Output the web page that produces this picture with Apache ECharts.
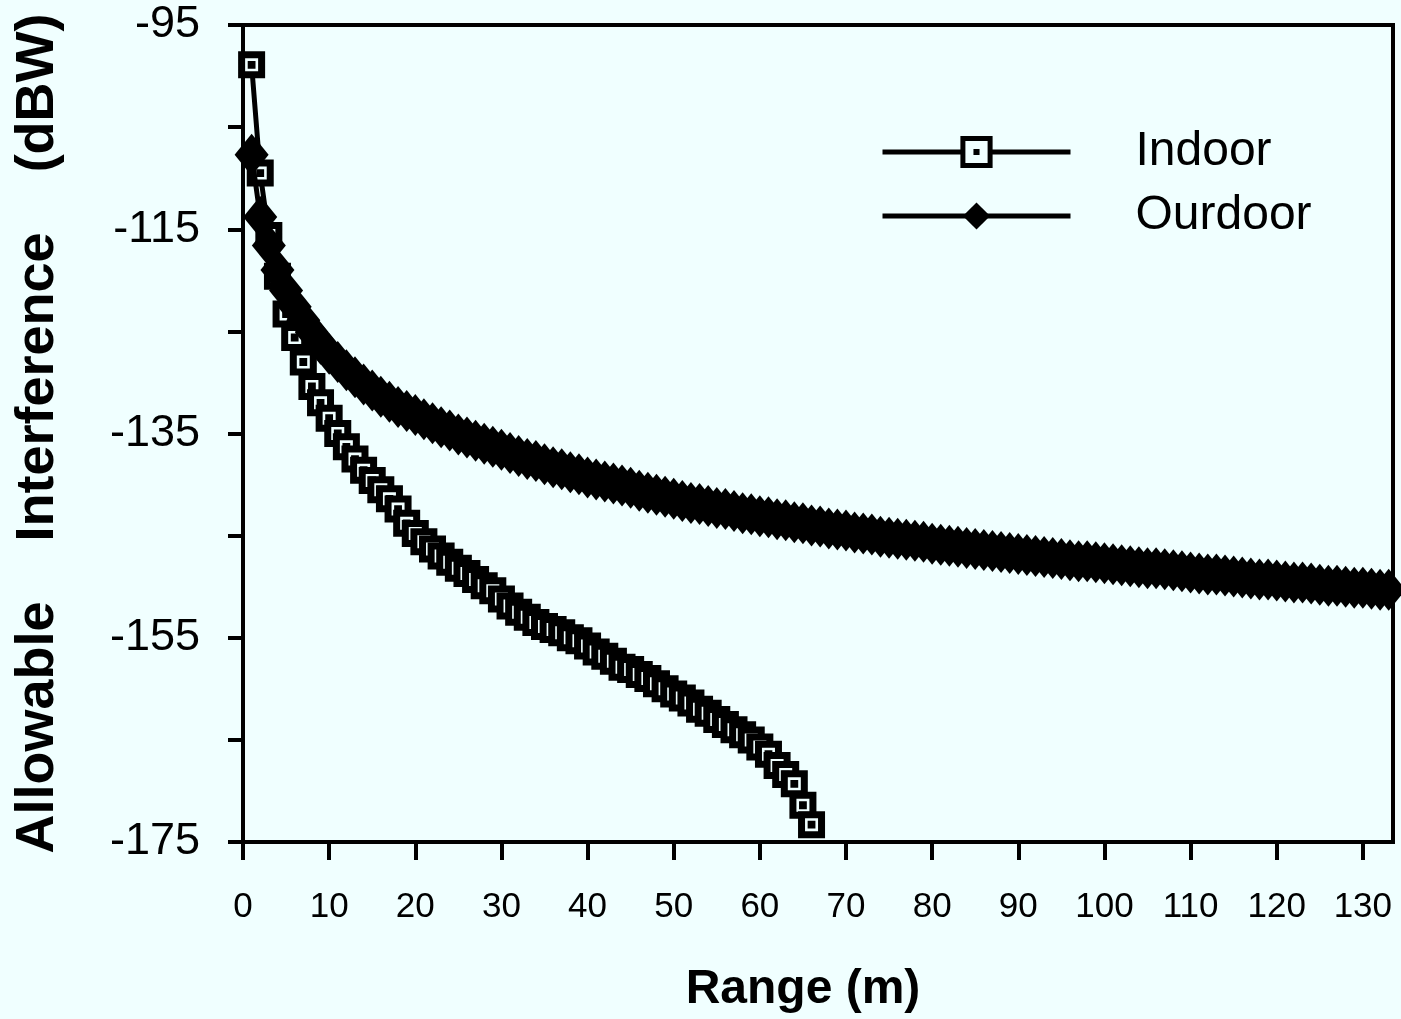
<!DOCTYPE html>
<html>
<head>
<meta charset="utf-8">
<script src="https://cdn.jsdelivr.net/npm/echarts@6/dist/echarts.min.js"></script>
<style>
  html, body { margin: 0; padding: 0; background: #f0ffff; }
  #chart { width: 1401px; height: 1019px; }
</style>
</head>
<body>
<div id="chart"></div>
<script>
// range (m) of each point
var indoorRange = [];
for (var i = 1; i <= 66; i++) indoorRange.push(i);
var outdoorRange = [];
for (var j = 1; j <= 133; j++) outdoorRange.push(j);

// allowable interference (dBW)
var indoorDbw = [
  -98.9, -109.5, -115.6, -119.6, -123.3, -125.6, -128.0, -130.4, -132.0, -133.5,
  -135.0, -136.3, -137.5, -138.6, -139.6, -140.5, -141.4, -142.4, -143.8, -144.8,
  -145.6, -146.3, -147.0, -147.6, -148.2, -148.7, -149.3, -149.9, -150.4, -151.2,
  -151.9, -152.5, -153.0, -153.5, -153.9, -154.2, -154.5, -155.0, -155.3, -155.8,
  -156.4, -156.8, -157.3, -157.9, -158.1, -158.6, -159.0, -159.5, -160.0, -160.5,
  -160.9, -161.4, -162.0, -162.4, -163.0, -163.5, -164.0, -164.5, -165.0, -165.7,
  -166.4, -167.5, -168.4, -169.3, -171.4, -173.3
];
var outdoorDbw = [
  -107.7, -113.8, -116.6, -119.0, -121.0, -122.6, -123.9, -125.1, -126.2, -127.2,
  -128.0, -128.8, -129.5, -130.2, -130.8, -131.4, -131.9, -132.4, -132.8, -133.2,
  -133.6, -134.0, -134.4, -134.7, -135.1, -135.4, -135.7, -136.0, -136.3, -136.6,
  -136.9, -137.2, -137.5, -137.7, -138.0, -138.3, -138.5, -138.8, -139.0, -139.3,
  -139.5, -139.7, -139.9, -140.1, -140.3, -140.6, -140.8, -141.0, -141.2, -141.4,
  -141.6, -141.8, -141.9, -142.1, -142.3, -142.4, -142.6, -142.8, -142.9, -143.1,
  -143.2, -143.4, -143.5, -143.7, -143.8, -144.0, -144.1, -144.3, -144.4, -144.5,
  -144.7, -144.8, -144.9, -145.1, -145.2, -145.3, -145.4, -145.5, -145.6, -145.8,
  -145.9, -146.0, -146.1, -146.2, -146.3, -146.4, -146.5, -146.6, -146.7, -146.8,
  -146.9, -147.0, -147.1, -147.2, -147.3, -147.4, -147.5, -147.5, -147.6, -147.7,
  -147.8, -147.9, -148.0, -148.1, -148.2, -148.2, -148.3, -148.4, -148.5, -148.6,
  -148.7, -148.8, -148.8, -148.9, -149.0, -149.1, -149.2, -149.3, -149.3, -149.4,
  -149.5, -149.6, -149.6, -149.7, -149.8, -149.9, -149.9, -150.0, -150.1, -150.1,
  -150.2, -150.3, -150.3
];
var yLabels = [-175, -155, -135, -115, -95];

function pairs(xs, ys) {
  return xs.map(function (x, k) { return [x, ys[k]]; });
}

var bg = '#f0ffff';
var chart = echarts.init(document.getElementById('chart'));
var option = {
  backgroundColor: bg,
  animation: false,
  textStyle: { fontFamily: 'Liberation Sans, Arial, sans-serif', color: '#000' },
  grid: {
    left: 243, top: 25, right: 8, bottom: 174,
    show: true, borderColor: '#000', borderWidth: 4, backgroundColor: 'transparent'
  },
  legend: {
    orient: 'vertical',
    left: 880, top: 128, padding: 0,
    itemWidth: 188, itemHeight: 34, itemGap: 16,
    lineStyle: { width: 5 },
    itemStyle: { borderWidth: 5 },
    textStyle: { fontSize: 48, color: '#000', padding: [0, 0, 0, 60] },
    data: ['Indoor', 'Ourdoor']
  },
  xAxis: {
    type: 'value', min: 0, max: 133.5, interval: 10,
    name: 'Range (m)', nameLocation: 'middle', nameGap: 124,
    nameTextStyle: { fontSize: 48, fontWeight: 'bold', color: '#000', padding: [0, 30, 0, 0] },
    axisLine: { lineStyle: { color: '#000', width: 4 } },
    axisTick: { inside: false, length: 18, lineStyle: { color: '#000', width: 4 } },
    axisLabel: { fontSize: 35, color: '#000', margin: 48, showMaxLabel: false },
    splitLine: { show: false }
  },
  yAxis: {
    type: 'value', min: -175, max: -95, interval: 10,
    name: 'Allowable    Interference    (dBW)', nameLocation: 'middle', nameGap: 178, nameRotate: 90,
    nameTextStyle: { fontSize: 54, fontWeight: 'bold', color: '#000' },
    axisLine: { lineStyle: { color: '#000', width: 4 } },
    axisTick: { inside: false, length: 15, lineStyle: { color: '#000', width: 4 } },
    axisLabel: {
      fontSize: 45, color: '#000', margin: 43,
      formatter: function (v) { return yLabels.indexOf(v) >= 0 ? String(v) : ''; }
    },
    splitLine: { show: false }
  },
  series: [
    {
      name: 'Indoor', type: 'line', z: 2,
      data: pairs(indoorRange, indoorDbw),
      symbol: 'path://M0,0H10V10H0Z M4.8,4.8H5.2V5.2H4.8Z',
      symbolSize: 20,
      itemStyle: { color: bg, borderColor: '#000', borderWidth: 7 },
      lineStyle: { color: '#000', width: 5 }
    },
    {
      name: 'Ourdoor', type: 'line', z: 3,
      data: pairs(outdoorRange, outdoorDbw),
      symbol: 'diamond',
      symbolSize: [34, 42],
      itemStyle: { color: '#000' },
      lineStyle: { color: '#000', width: 5 }
    }
  ]
};
chart.setOption(option);
</script>
</body>
</html>
